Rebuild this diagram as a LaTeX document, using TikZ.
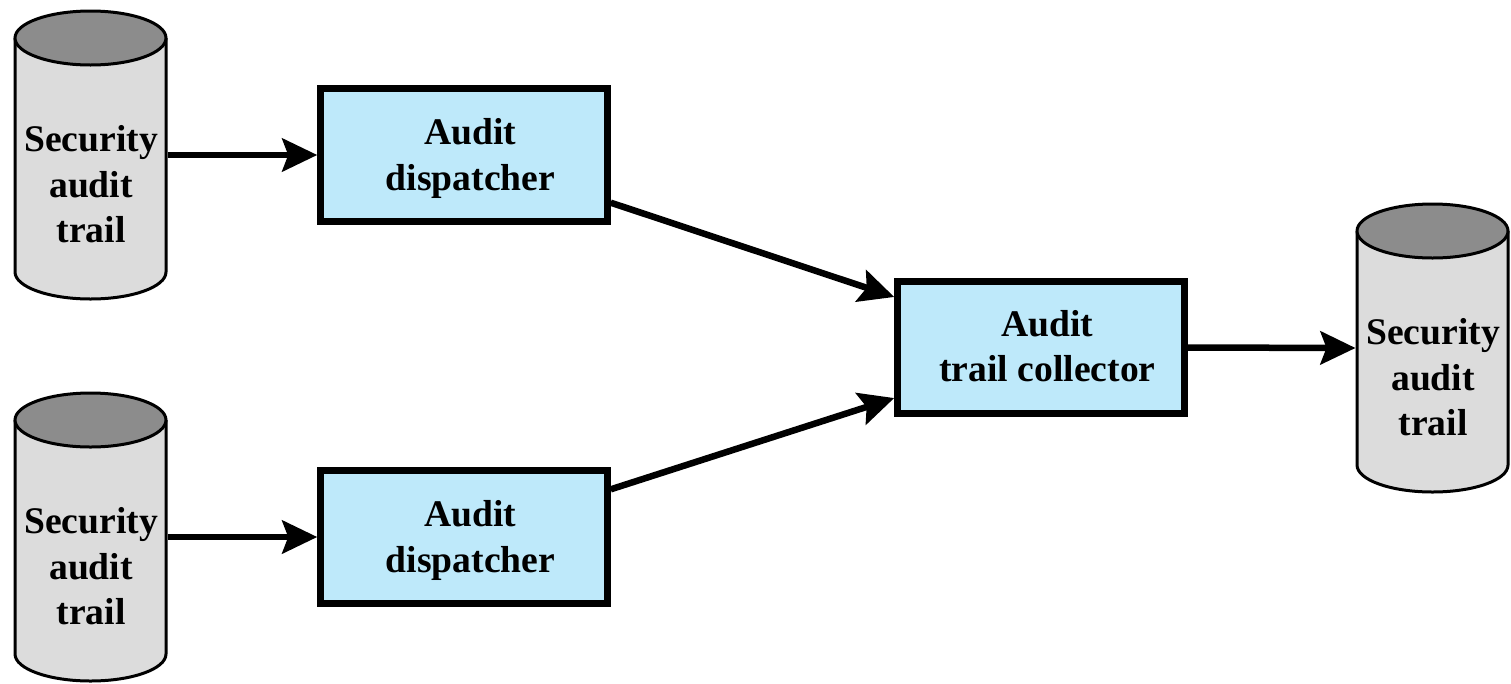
\documentclass[tikz,border=0pt]{standalone}
\usepackage{fontspec}
\setmainfont{Liberation Serif}
\usetikzlibrary{arrows.meta}
\tikzset{
  x=1pt,y=-1pt,
  lbl/.style={font=\fontsize{37.6}{45.5}\selectfont\bfseries,align=center,inner sep=0pt,outer sep=0pt},
  boxnode/.style={draw=black,line width=7pt,fill=boxblue,minimum width=286.5pt,minimum height=132.5pt,inner sep=0pt,outer sep=3.5pt},
  cylanchor/.style={minimum width=154pt,minimum height=288pt,inner sep=0pt,outer sep=0pt},
  cylline/.style={draw=black,line width=3pt},
  conn/.style={line width=6.5pt,-{Stealth[length=35pt,width=33pt,inset=6pt]}}
}
\definecolor{boxblue}{HTML}{BEE9FA}
\definecolor{cylbody}{HTML}{DCDCDC}
\definecolor{cyltop}{HTML}{8C8C8C}
\newcommand{\dbcyl}[3]{%
  \node[cylanchor] (#1) at (#2,#3) {};
  \path[cylline,fill=cylbody] (#2-75.5,#3-117) -- (#2-75.5,#3+117)
    arc[start angle=180,end angle=360,x radius=75.5,y radius=-27]
    -- (#2+75.5,#3-117);
  \path[cylline,fill=cyltop] (#2,#3-117) ellipse[x radius=75.5,y radius=27];
  \node[lbl] (#1t) at (#2+0.5,#3+29.5) {Security\\audit\\trail};
}
\begin{document}
\begin{tikzpicture}
\useasboundingbox (0,0) rectangle (1511,683);
\dbcyl{c1}{90.5}{155}
\dbcyl{c2}{90.5}{537}
\dbcyl{c3}{1432.5}{348}
\node[boxnode] (b1) at (464,155) {};
\node[boxnode] (b2) at (464,537) {};
\node[boxnode] (b3) at (1041,347.5) {};
\node[lbl] (b1t) at (470.5,158.5) {Audit\\dispatcher};
\node[lbl] (b2t) at (470.5,540.5) {Audit\\dispatcher};
\node[lbl] (b3t) at (1047.5,346) {Audit\\trail collector};
\draw[conn] (c1.east) -- (b1.west);
\draw[conn] (c2.east) -- (b2.west);
\draw[conn] (b1.-18.5) -- (b3.161);
\draw[conn] (b2.18.5) -- (b3.199);
\draw[conn] (b3.east) -- (c3.west);
\end{tikzpicture}
\end{document}
